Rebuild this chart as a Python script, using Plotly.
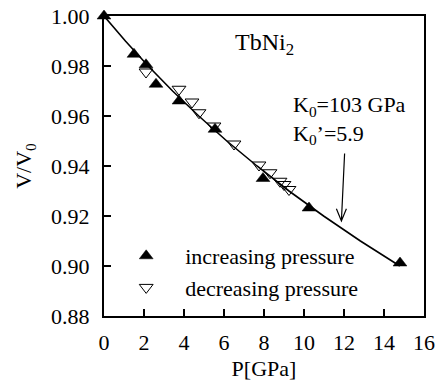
import plotly.graph_objects as go

# increasing pressure (filled up-triangles)
p_inc = [0.0, 1.5, 2.1, 2.6, 3.75, 5.55, 7.95, 10.25, 14.8]
v_inc = [1.000, 0.9847, 0.9805, 0.9727, 0.9660, 0.9547, 0.9350, 0.9232, 0.9012]

# decreasing pressure (open down-triangles)
p_dec = [2.1, 3.75, 4.4, 4.75, 5.5, 6.5, 7.75, 8.3, 8.8, 9.0, 9.25]
v_dec = [0.9776, 0.9707, 0.9656, 0.9613, 0.9560, 0.9488, 0.9404, 0.9373, 0.9339, 0.9326, 0.9306]

# fitted Birch-Murnaghan curve (K0=103 GPa, K0'=5.9)
p_fit = [0.0, 1.07, 2.21, 3.43, 4.74, 6.14, 7.65, 9.25, 10.98, 12.82, 14.79]
v_fit = [1.00, 0.99, 0.98, 0.97, 0.96, 0.95, 0.94, 0.93, 0.92, 0.91, 0.90]

x_ticks = [0, 2, 4, 6, 8, 10, 12, 14, 16]
y_ticks = [0.88, 0.90, 0.92, 0.94, 0.96, 0.98, 1.00]

FONT = "Liberation Serif"

fig = go.Figure()
fig.add_trace(go.Scatter(x=p_fit, y=v_fit, mode="lines", line=dict(color="black", width=1.6),
                         showlegend=False, hoverinfo="skip"))
fig.add_trace(go.Scatter(x=p_inc, y=v_inc, mode="markers", name="increasing pressure", cliponaxis=False,
                         marker=dict(symbol="triangle-up", size=12, color="black",
                                     line=dict(color="black", width=0.5))))
fig.add_trace(go.Scatter(x=p_dec, y=v_dec, mode="markers", name="decreasing pressure", cliponaxis=False,
                         marker=dict(symbol="triangle-down-open", size=12, color="black",
                                     line=dict(color="black", width=1))))

axis_common = dict(showgrid=False, zeroline=False, showline=True, linecolor="black", linewidth=2,
                   mirror=True, ticks="inside", ticklen=7, tickwidth=1.5, tickcolor="black",
                   automargin=False, tickfont=dict(family=FONT, size=22, color="black"))

fig.update_xaxes(range=[0, 16], tickvals=x_ticks, ticktext=[str(t) for t in x_ticks],
                 title=dict(text="P[GPa]", font=dict(family=FONT, size=22, color="black"), standoff=20),
                 ticklabelstandoff=6, **axis_common)
fig.update_yaxes(range=[0.88, 1.00], tickvals=y_ticks, ticktext=[f"{t:.2f}" for t in y_ticks],
                 title=dict(text="V/V<sub>0</sub>", font=dict(family=FONT, size=22, color="black"), standoff=13),
                 ticklabelstandoff=8, **axis_common)

fig.add_annotation(x=0.503, y=0.905, xref="paper", yref="paper", xanchor="center", yanchor="middle",
                   text="TbNi<sub>2</sub>",
                   showarrow=False, font=dict(family=FONT, size=24, color="black"))
fig.add_annotation(x=0.585, y=0.755, xref="paper", yref="paper", xanchor="left", yanchor="top", align="left",
                   text="K<sub>0</sub>=103 GPa<br>K<sub>0</sub>\u2019=5.9",
                   showarrow=False, font=dict(family=FONT, size=22, color="black"))

# arrow pointing at the fit curve
fig.add_shape(type="path", xref="x", yref="y",
              path="M 12.03,0.945 L 11.87,0.918 M 11.62,0.9229 L 11.87,0.918 L 12.12,0.9229",
              line=dict(color="black", width=1.2))

fig.update_layout(
    width=439, height=381,
    margin=dict(l=104, r=15, t=16, b=65),
    paper_bgcolor="white", plot_bgcolor="white",
    font=dict(family=FONT, size=22, color="black"),
    legend=dict(x=0.01, y=0.27, xanchor="left", yanchor="top", bgcolor="rgba(0,0,0,0)",
                itemwidth=68, font=dict(family=FONT, size=22, color="black")),
)

fig.write_html("out.html")
